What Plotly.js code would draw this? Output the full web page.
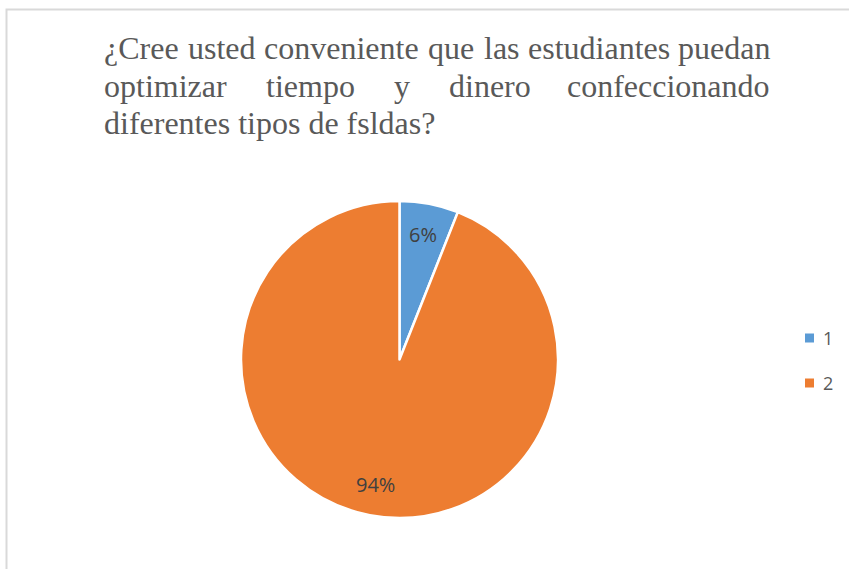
<!DOCTYPE html>
<html>
<head>
<meta charset="utf-8">
<script src="https://cdn.plot.ly/plotly-3.0.1.min.js"></script>
<style>html,body{margin:0;padding:0;background:#fff;}#chart{width:849px;height:569px;}</style>
</head>
<body>
<div id="chart"></div>
<script>
// ---- data ----
const categories = ['1', '2'];
const percentValues = [6, 94];
const sliceColors = ['#5B9BD5', '#ED7D31'];
const titleLines = [
  '¿Cree usted conveniente que las estudiantes puedan',
  'optimizar tiempo y dinero confeccionando',
  'diferentes tipos de fsldas?'
];
const justifiedLines = [true, true, false];

// ---- layout helpers ----
const W = 849, H = 569;
const px = x => x / W;
const py = y => 1 - y / H;

const titleFontSize = 32;
const titleFamily = 'Liberation Serif, Times New Roman, serif';
const titleColor = '#595959';
const titleLeft = 103, titleRight = 771;
const titleCenters = [48, 86, 123];

const canvas = document.createElement('canvas');
const ctx = canvas.getContext('2d');
ctx.font = titleFontSize + 'px "Liberation Serif"';

const annotations = [];
titleLines.forEach((line, i) => {
  const yc = py(titleCenters[i]);
  const font = {family: titleFamily, size: titleFontSize, color: titleColor};
  if (!justifiedLines[i]) {
    annotations.push({text: line, xref: 'paper', yref: 'paper', x: px(titleLeft), y: yc,
      xanchor: 'left', yanchor: 'middle', showarrow: false, font: font, borderpad: 0});
    return;
  }
  const words = line.split(' ');
  const widths = words.map(w => ctx.measureText(w).width);
  const total = widths.reduce((a, b) => a + b, 0);
  const gap = (titleRight - titleLeft - total) / (words.length - 1);
  let x = titleLeft;
  words.forEach((w, k) => {
    const last = k === words.length - 1;
    annotations.push({text: w, xref: 'paper', yref: 'paper',
      x: px(last ? titleRight : x), y: yc,
      xanchor: last ? 'right' : 'left', yanchor: 'middle', showarrow: false, font: font, borderpad: 0});
    x += widths[k] + gap;
  });
});

// pie geometry (pixels)
const pieLeft = 241, pieRight = 558, pieTop = 201, pieBottom = 518;
const cx = (pieLeft + pieRight) / 2, cy = (pieTop + pieBottom) / 2;
const R = (pieRight - pieLeft) / 2;
const labelRadiusFrac = 0.8;

// percent labels placed at the middle angle of each slice (clockwise from 12 o'clock)
const totalValue = percentValues.reduce((a, b) => a + b, 0);
let cum = 0;
percentValues.forEach((v, i) => {
  const mid = (cum + v / 2) / totalValue * 2 * Math.PI;
  cum += v;
  const lx = cx + Math.sin(mid) * R * labelRadiusFrac;
  const ly = cy - Math.cos(mid) * R * labelRadiusFrac;
  annotations.push({text: Math.round(v / totalValue * 100) + '%', xref: 'paper', yref: 'paper',
    x: px(lx), y: py(ly), xanchor: 'center', yanchor: 'middle', showarrow: false,
    font: {family: 'Open Sans, sans-serif', size: 20, color: '#404040'}});
});

// custom legend
const shapes = [];
const legendX = 805, legendY0 = 338, legendStep = 45, sq = 9;
categories.forEach((c, i) => {
  const yc = legendY0 + i * legendStep;
  shapes.push({type: 'rect', xref: 'paper', yref: 'paper',
    x0: px(legendX), x1: px(legendX + sq), y0: py(yc - sq / 2), y1: py(yc + sq / 2),
    fillcolor: sliceColors[i], line: {width: 0}});
  annotations.push({text: c, xref: 'paper', yref: 'paper', x: px(legendX + 16), y: py(yc),
    xanchor: 'left', yanchor: 'middle', showarrow: false,
    font: {family: 'Open Sans, sans-serif', size: 18, color: '#595959'}});
});

// border of the chart area
shapes.push({type: 'rect', xref: 'paper', yref: 'paper',
  x0: px(6.5), x1: 1.2, y0: -0.2, y1: py(9.5),
  line: {color: '#d9d9d9', width: 2}, fillcolor: 'rgba(0,0,0,0)'});

const trace = {
  type: 'pie',
  labels: categories,
  values: percentValues,
  sort: false,
  direction: 'clockwise',
  rotation: 0,
  marker: {colors: sliceColors, line: {color: '#ffffff', width: 2.5}},
  textinfo: 'none',
  domain: {x: [px(pieLeft), px(pieRight)], y: [py(pieBottom), py(pieTop)]},
  hoverinfo: 'label+percent',
  showlegend: false
};

const layout = {
  width: W, height: H,
  margin: {l: 0, r: 0, t: 0, b: 0},
  paper_bgcolor: '#ffffff',
  showlegend: false,
  annotations: annotations,
  shapes: shapes
};

Plotly.newPlot('chart', [trace], layout, {displayModeBar: false, staticPlot: true});
</script>
</body>
</html>
